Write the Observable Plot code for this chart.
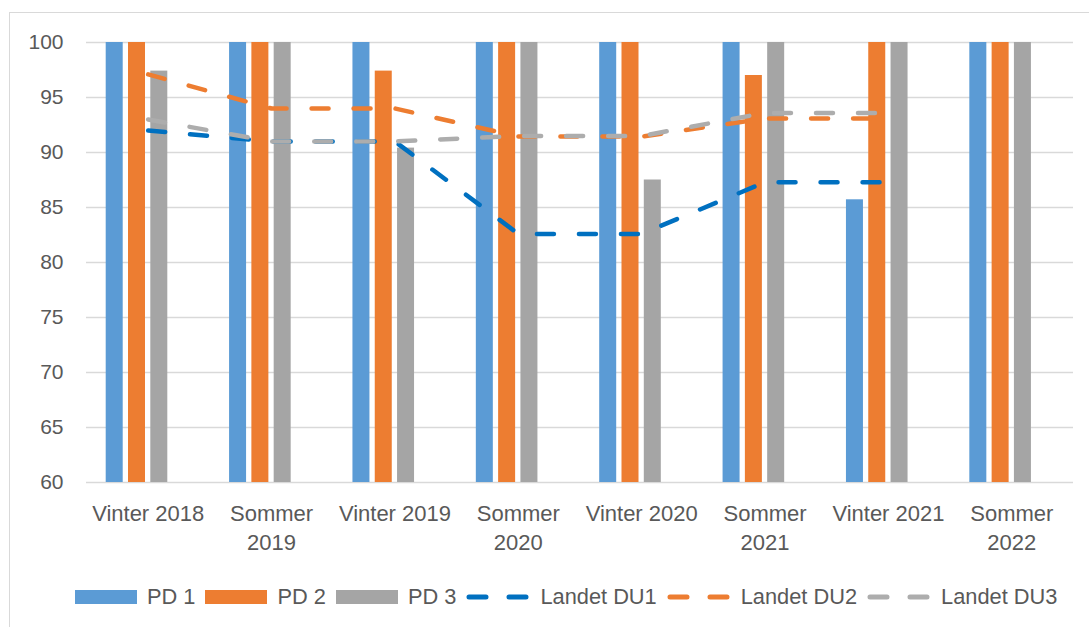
<!DOCTYPE html>
<html>
<head>
<meta charset="utf-8">
<script src="https://cdn.jsdelivr.net/npm/d3@7"></script>
<script src="https://cdn.jsdelivr.net/npm/@observablehq/plot@0.6"></script>
<style>
  body { margin: 0; background: #fff; font-family: "Liberation Sans", Arial, sans-serif; }
  #wrap { position: relative; width: 1089px; height: 627px; overflow: hidden; background: #fff; }
  #frame { position: absolute; left: 9px; top: 12px; width: 1200px; height: 800px;
           border-left: 1px solid #d9d9d9; border-top: 1px solid #d9d9d9; }
  #chart { position: absolute; left: 0; top: 0; }
  #legend { position: absolute; left: 75px; top: 583px; height: 28px; display: flex; align-items: center;
            font-size: 21.8px; color: #595959; white-space: nowrap; }
  .item { display: flex; align-items: center; margin-right: 10px; }
  .item span { margin-left: 10px; }
  .sw { display: block; }
</style>
</head>
<body>
<div id="wrap">
  <div id="frame"></div>
  <div id="chart"></div>
  <div id="legend"></div>
</div>
<script>
// ---- data ----
const categories = ["Vinter 2018", "Sommer 2019", "Vinter 2019", "Sommer 2020", "Vinter 2020", "Sommer 2021", "Vinter 2021", "Sommer 2022"];
const tickLabels = ["Vinter 2018", "Sommer\n2019", "Vinter 2019", "Sommer\n2020", "Vinter 2020", "Sommer\n2021", "Vinter 2021", "Sommer\n2022"];
const pd1 = [100, 100, 100, 100, 100, 100, 85.7, 100];
const pd2 = [100, 100, 97.4, 100, 100, 97.0, 100, 100];
const pd3 = [97.4, 100, 90.4, 100, 87.5, 100, 100, 100];
const du1 = [92.0, 91.0, 91.0, 82.6, 82.6, 87.3, 87.3, null];
const du2 = [97.1, 94.0, 94.0, 91.45, 91.45, 93.1, 93.1, null];
const du3 = [93.0, 91.0, 91.0, 91.5, 91.5, 93.6, 93.6, null];
const yTicks = [60, 65, 70, 75, 80, 85, 90, 95, 100];

const barSeries = [
  {name: "PD 1", values: pd1, color: "#5B9BD5"},
  {name: "PD 2", values: pd2, color: "#ED7D31"},
  {name: "PD 3", values: pd3, color: "#A5A5A5"}
];
const lineSeries = [
  {name: "Landet DU1", values: du1, color: "#0070C0"},
  {name: "Landet DU2", values: du2, color: "#ED7D31"},
  {name: "Landet DU3", values: du3, color: "#ADADAD"}
];

const toRows = (vals) => categories.map((c, i) => ({cat: c, v: vals[i]})).filter(d => d.v != null);

// bar slot layout inside each band (4 slots, last one empty, as in the original)
const bandW = (1073 - 86) / categories.length;
const groupOffset = 19.7, slot = 22.3, barW = 17;

const marks = [
  Plot.ruleY(yTicks, {stroke: "#d9d9d9", strokeWidth: 1.3})
];
barSeries.forEach((s, i) => {
  const l = groupOffset + slot * i;
  marks.push(Plot.barY(toRows(s.values), {
    x: "cat", y1: () => 60, y2: "v", fill: s.color,
    insetLeft: l, insetRight: bandW - l - barW
  }));
});
lineSeries.forEach(s => {
  marks.push(Plot.lineY(toRows(s.values), {
    x: "cat", y: "v", stroke: s.color, strokeWidth: 4.5,
    strokeDasharray: "17,25", strokeLinecap: "round", strokeLinejoin: "round"
  }));
});
marks.push(Plot.axisY({ticks: yTicks, tickSize: 0, tickPadding: 23, label: null, fontSize: 21}));
marks.push(Plot.axisX({tickSize: 0, tickPadding: 18, lineHeight: 1.32, label: null, fontSize: 22,
  tickFormat: d => tickLabels[categories.indexOf(d)]}));

const chart = Plot.plot({
  width: 1089, height: 570,
  marginLeft: 86, marginRight: 16, marginTop: 42, marginBottom: 88,
  style: {fontFamily: "'Liberation Sans', Arial, sans-serif", fontSize: "21px", color: "#595959", background: "transparent", overflow: "visible"},
  x: {type: "band", domain: categories, padding: 0, round: false, axis: null, label: null},
  y: {domain: [60, 100], axis: null, label: null},
  marks
});
document.getElementById("chart").appendChild(chart);

// ---- legend ----
const legend = document.getElementById("legend");
barSeries.forEach(s => {
  const it = document.createElement("div");
  it.className = "item";
  it.innerHTML = `<svg class="sw" width="62" height="14"><rect width="62" height="14" fill="${s.color}"/></svg><span>${s.name}</span>`;
  legend.appendChild(it);
});
lineSeries.forEach(s => {
  const it = document.createElement("div");
  it.className = "item";
  it.innerHTML = `<svg class="sw" width="64" height="14"><line x1="3" x2="62" y1="7" y2="7" stroke="${s.color}" stroke-width="5" stroke-dasharray="17,23" stroke-linecap="round"/></svg><span>${s.name}</span>`;
  legend.appendChild(it);
});
</script>
</body>
</html>
